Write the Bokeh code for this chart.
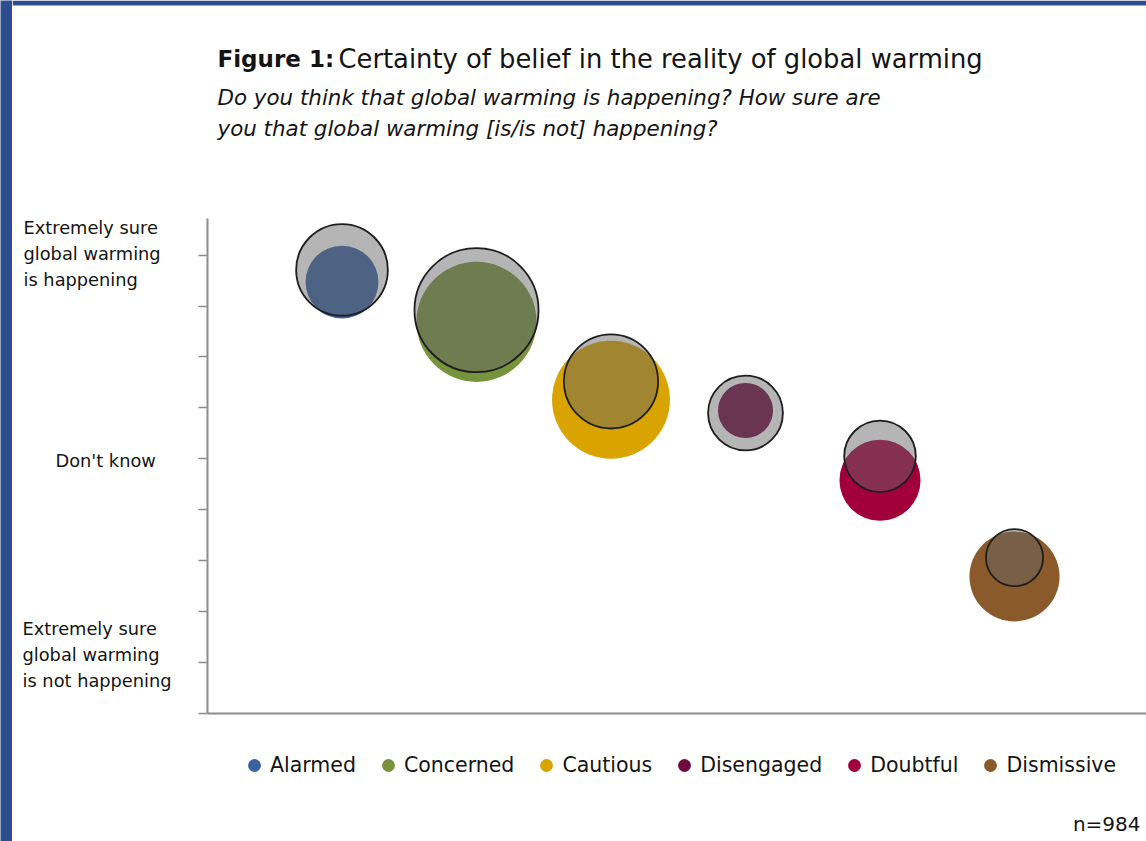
import math
from bokeh.plotting import figure
from bokeh.layouts import row, column
from bokeh.models import (Label, Legend, LegendItem, FixedTicker, ColumnDataSource,
                          Range1d, LinearAxis, BoxAnnotation)
from bokeh.embed import file_html
from bokeh.resources import INLINE

# ---------------- data ----------------
categories = ["Alarmed", "Concerned", "Cautious", "Disengaged", "Doubtful", "Dismissive"]
x_pos = [1, 2, 3, 4, 5, 6]
# coloured bubbles: certainty score and bubble share
certainty_color = [8.47, 7.69, 6.16, 5.95, 4.58, 2.69]
share_color = [11.4, 30.9, 29.8, 6.5, 14.1, 17.4]
# grey outlined bubbles
certainty_grey = [8.71, 7.92, 6.52, 5.90, 5.05, 3.06]
share_grey = [18, 33, 19, 12, 11, 7]
seg_colors = ["#3a62a0", "#77933c", "#d9a300", "#6e0b3e", "#a2003a", "#8b5a2b"]
y_ticks = [0, 1, 2, 3, 4, 5, 6, 7, 8, 9]
y_label_values = [9.03, 4.97, 1.16]
y_label_texts = ["Extremely sure\nglobal warming\nis happening",
                 "Don't know",
                 "Extremely sure\nglobal warming\nis not happening"]
title_bold = "Figure 1:"
title_rest = "Certainty of belief in the reality of global warming"
subtitle_lines = ["Do you think that global warming  is happening? How sure are",
                  "you that global warming [is/is not] happening?"]
note = "n=984"

# ---------------- geometry (page pixels) ----------------
PAGE_W, PAGE_H = 1146, 841
STRIP_L, STRIP_T = 12, 5
FRAME_L, FRAME_T, FRAME_B = 207, 218, 713
HEAD_B = 212
B = 10                       # bottom border of main plot (x-axis line)
PX_PER_X = 134.5
PX_PER_Y = 50.93
K = 10.8                     # bubble radius (px) per sqrt(share)
BLUE = "#2d4d8e"
FONT = "DejaVu Sans"
TXT = "#141414"

row_h = FRAME_B + B - HEAD_B
ylab_w = FRAME_L - STRIP_L - 12
main_w = PAGE_W - STRIP_L - ylab_w
head_h = HEAD_B
foot_h = PAGE_H - (FRAME_B + B)


def plain(width, height, x_range, y_range, fill="white"):
    f = figure(width=width, height=height, x_range=x_range, y_range=y_range,
               output_backend="svg", toolbar_location=None, title=None,
               x_axis_type=None, y_axis_type=None,
               min_border_left=0, min_border_right=0, min_border_top=0, min_border_bottom=0)
    f.outline_line_color = None
    f.xgrid.visible = False
    f.ygrid.visible = False
    f.background_fill_color = fill
    f.border_fill_color = fill
    return f


# ---------------- main bubble plot ----------------
X1 = (PAGE_W - FRAME_L) / PX_PER_X
Y1 = (FRAME_B - FRAME_T) / PX_PER_Y
p = figure(width=main_w, height=row_h, x_range=Range1d(0, X1), y_range=Range1d(0, Y1),
           output_backend="svg", toolbar_location=None, title=None,
           x_axis_type=None, y_axis_type=None,
           min_border_left=12, min_border_right=0, min_border_top=FRAME_T - HEAD_B,
           min_border_bottom=B)
p.outline_line_color = None
p.xgrid.visible = False
p.ygrid.visible = False

xaxis = LinearAxis(ticker=FixedTicker(ticks=[]), major_tick_out=0, major_tick_in=0,
                   minor_tick_out=0, minor_tick_in=0, major_label_standoff=0,
                   axis_line_color="#8c8c8c", axis_line_width=2)
yaxis = LinearAxis(ticker=FixedTicker(ticks=[], minor_ticks=y_ticks),
                   major_tick_out=0, major_tick_in=0, minor_tick_out=9, minor_tick_in=0,
                   major_label_standoff=0,
                   axis_line_color="#8c8c8c", axis_line_width=2,
                   minor_tick_line_color="#8c8c8c", minor_tick_line_width=1.5)
p.add_layout(xaxis, "below")
p.add_layout(yaxis, "left")

src_c = ColumnDataSource(dict(x=x_pos, y=certainty_color, cat=categories, color=seg_colors,
                              size=[2 * K * math.sqrt(s) for s in share_color]))
src_g = ColumnDataSource(dict(x=x_pos, y=certainty_grey, cat=categories,
                              size=[2 * K * math.sqrt(s) for s in share_grey]))
p.scatter("x", "y", size="size", source=src_c, fill_color="color", line_color=None)
p.scatter("x", "y", size="size", source=src_g, fill_color="#646464", fill_alpha=0.48,
          line_color="#1e1e1e", line_width=1.8)

# ---------------- y category labels (frame aligned with the plot, same y scale) ----------
ylab = plain(ylab_w, row_h, Range1d(STRIP_L, STRIP_L + ylab_w), p.y_range)
label_x = [23, 55, 22]
for lx, ly, t in zip(label_x, y_label_values, y_label_texts):
    ylab.add_layout(Label(x=lx, y=ly, text=t, text_font=FONT,
                          text_font_size="17.8px", text_color=TXT, text_align="left",
                          text_baseline="middle", text_line_height=1.24))

# ---------------- header ----------------
head = plain(PAGE_W - STRIP_L, head_h, Range1d(STRIP_L, PAGE_W), Range1d(HEAD_B, 0))
head.add_layout(BoxAnnotation(top=0, bottom=STRIP_T, fill_color=BLUE, fill_alpha=1.0,
                              line_color=None))
head.add_layout(Label(x=217, y=58.5, text=title_bold, text_font=FONT, text_font_size="23px",
                      text_font_style="bold", text_color=TXT, text_align="left",
                      text_baseline="middle"))
head.add_layout(Label(x=338, y=58.5, text=title_rest, text_font=FONT, text_font_size="25.8px",
                      text_color=TXT, text_align="left", text_baseline="middle"))
for i, line in enumerate(subtitle_lines):
    head.add_layout(Label(x=217, y=96.8 + 31 * i, text=line, text_font=FONT,
                          text_font_size="21.4px", text_font_style="italic", text_color=TXT,
                          text_align="left", text_baseline="middle"))

# ---------------- footer: legend + sample size ----------------
foot = plain(PAGE_W - STRIP_L, foot_h, Range1d(STRIP_L, PAGE_W),
             Range1d(PAGE_H, FRAME_B + B))
src_leg = ColumnDataSource(dict(x=x_pos, y=[float("nan")] * len(x_pos), color=seg_colors))
r_leg = foot.scatter("x", "y", source=src_leg, fill_color="color", line_color=None, size=10)
items = [LegendItem(label=c, renderers=[r_leg], index=i) for i, c in enumerate(categories)]
legend = Legend(items=items, orientation="horizontal", location=(238 - STRIP_L, PAGE_H - 781),
                glyph_width=32, glyph_height=32, label_standoff=0, spacing=16,
                padding=0, margin=0, border_line_color=None, background_fill_alpha=0,
                label_text_font=FONT, label_text_font_size="20.5px", label_text_color=TXT)
foot.add_layout(legend)
foot.add_layout(Label(x=1140, y=823.5, text=note, text_font=FONT, text_font_size="20px",
                      text_color=TXT, text_align="right", text_baseline="middle"))

# ---------------- blue frame strip on the left ----------------
left_strip = plain(STRIP_L, PAGE_H, Range1d(0, 1), Range1d(0, 1), fill=BLUE)

layout = row(left_strip,
             column(head, row(ylab, p, spacing=0), foot, spacing=0),
             spacing=0)

open("out.html", "w").write(file_html(layout, INLINE))
